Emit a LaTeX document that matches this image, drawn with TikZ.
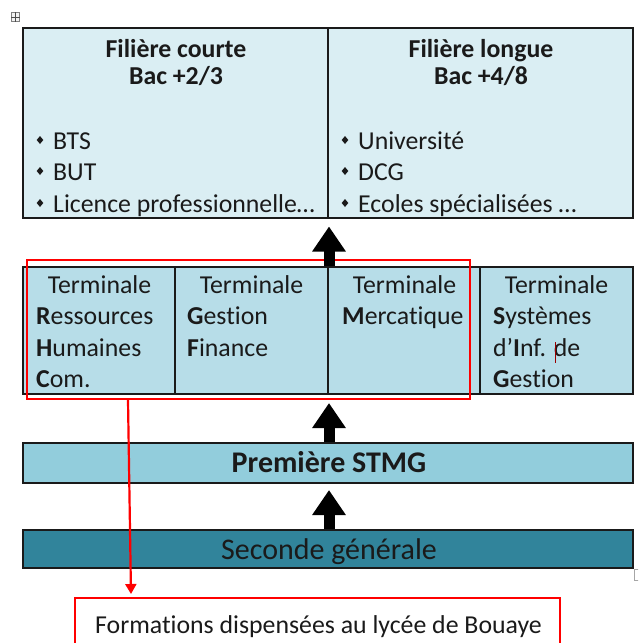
\documentclass[tikz,border=0pt]{standalone}
\usepackage{fontspec}
\setmainfont{Carlito}[Ligatures={NoCommon,NoContextual}]
\usetikzlibrary{arrows.meta}
\definecolor{lightA}{HTML}{DAEEF3}
\definecolor{lightB}{HTML}{B7DDE8}
\definecolor{lightC}{HTML}{92CDDC}
\definecolor{darkC}{HTML}{31849B}
\definecolor{ink}{HTML}{1A1A1A}
\begin{document}
\begin{tikzpicture}[x=1pt,y=-1pt,
  cell/.style={draw=ink, line width=1.2pt, inner sep=0pt, outer sep=0pt, anchor=north west},
  redbox/.style={draw=red, line width=2.4pt, inner sep=0pt, outer sep=0pt, anchor=north west},
  txt/.style={anchor=base west, inner sep=0pt, text=ink, font=\fontsize{25.8}{30}\selectfont},
  txtc/.style={anchor=base, inner sep=0pt, text=ink, font=\fontsize{25.8}{30}\selectfont},
  ttl/.style={anchor=base, inner sep=0pt, text=ink, font=\fontsize{25.8}{30}\selectfont\bfseries},
  bigtxt/.style={anchor=base, inner sep=0pt, text=ink, font=\fontsize{30}{34}\selectfont},
  bigarrow/.style={draw=black, line width=11pt, -{Triangle[length=25pt,width=32pt]}},
  redarrow/.style={draw=red, line width=2.2pt, -{Triangle[length=10pt,width=11pt]}},
  bul/.style={fill=ink}
]
\useasboundingbox (0,0) rectangle (638,643);
\clip (0,0) rectangle (638,643);

% small editor marks
\node[draw=gray, fill=gray!10, line width=0.6pt, minimum width=8pt, minimum height=9pt, inner sep=0pt, anchor=north west] (handle) at (11,12) {};
\draw[gray!60!black, line width=0.6pt] (handle.north) -- (handle.south) (handle.west) -- (handle.east);
\draw[gray!70, line width=0.8pt] (640,569) -- (634.5,569) -- (634.5,580) -- (640,580);

% top row
\node[cell, fill=lightA, minimum width=305pt, minimum height=190pt] (court) at (23,28) {};
\node[cell, fill=lightA, minimum width=305pt, minimum height=190pt] (long) at (328,28) {};

\node[ttl] (t1a) at (176,57) {Filière courte};
\node[ttl] (t1b) at (176,84) {Bac +2/3};
\node[ttl] (t2a) at (481,57) {Filière longue};
\node[ttl] (t2b) at (481,84) {Bac +4/8};

\foreach \yy in {140,171,203}{
  \fill[bul, shift={(40,\yy)}] (0,-4) -- (3.3,0) -- (0,4) -- (-3.3,0) -- cycle;
  \fill[bul, shift={(345,\yy)}] (0,-4) -- (3.3,0) -- (0,4) -- (-3.3,0) -- cycle;
}
\node[txt] (c1) at (53,149) {BTS};
\node[txt] (c2) at (53,180) {BUT};
\node[txt] (c3) at (53,212) {Licence professionnelle…};
\node[txt] (l1) at (358,149) {Université};
\node[txt] (l2) at (358,180) {DCG};
\node[txt] (l3) at (358,212) {Ecoles spécialisées …};

% terminale row
\node[cell, fill=lightB, minimum width=152pt, minimum height=127pt] (rhc) at (23,267) {};
\node[cell, fill=lightB, minimum width=153pt, minimum height=127pt] (gf) at (175,267) {};
\node[cell, fill=lightB, minimum width=152pt, minimum height=127pt] (merc) at (328,267) {};
\node[cell, fill=lightB, minimum width=153pt, minimum height=127pt] (sig) at (480,267) {};

\node[txtc] (r0) at (99.5,293) {Terminale};
\node[txt] (r1) at (36,324) {\textbf{R}essources};
\node[txt] (r2) at (36,356) {\textbf{H}umaines};
\node[txt] (r3) at (36,387) {\textbf{C}om.};

\node[txtc] (g0) at (251.5,293) {Terminale};
\node[txt] (g1) at (187,324) {\textbf{G}estion};
\node[txt] (g2) at (187,356) {\textbf{F}inance};

\node[txtc] (m0) at (404.5,293) {Terminale};
\node[txt] (m1) at (342,324) {\textbf{M}ercatique};

\node[txtc] (s0) at (556.5,293) {Terminale};
\node[txt] (s1) at (493,324) {\textbf{S}ystèmes};
\node[txt] (s2) at (493,356) {d’\textbf{I}nf. de};
\node[txt] (s3) at (493,387) {\textbf{G}estion};
\draw[red!60!black, line width=0.8pt] (555,342) -- (555,363);

% red frame around lycée formations
\node[redbox, minimum width=443pt, minimum height=139pt] (lycee) at (27,260) {};

% première and seconde
\node[cell, fill=lightC, minimum width=610pt, minimum height=40pt] (prem) at (23,443) {};
\node[bigtxt, font=\fontsize{30}{34}\selectfont\bfseries] (premt) at (329,472) {Première STMG};
\node[cell, fill=darkC, minimum width=610pt, minimum height=38pt] (sec) at (23,530) {};
\node[bigtxt] (sect) at (329,559) {Seconde générale};

% big arrows
\coordinate (a1s) at (329,266);
\coordinate (a1e) at (329,226.5);
\coordinate (a2s) at (329,442);
\coordinate (a2e) at (329,403);
\coordinate (a3s) at (329,529);
\coordinate (a3e) at (329,490);
\draw[bigarrow] (a1s) -- (a1e);
\draw[bigarrow] (a2s) -- (a2e);
\draw[bigarrow] (a3s) -- (a3e);

% bottom box
\node[redbox, minimum width=485pt, minimum height=70pt] (form) at (75,598) {};
\node[txtc] (formt) at (318.5,633) {Formations dispensées au lycée de Bouaye};

\coordinate (rs) at (128,400);
\coordinate (re) at (131,594);
\draw[redarrow] (rs) -- (re);
\end{tikzpicture}
\end{document}
